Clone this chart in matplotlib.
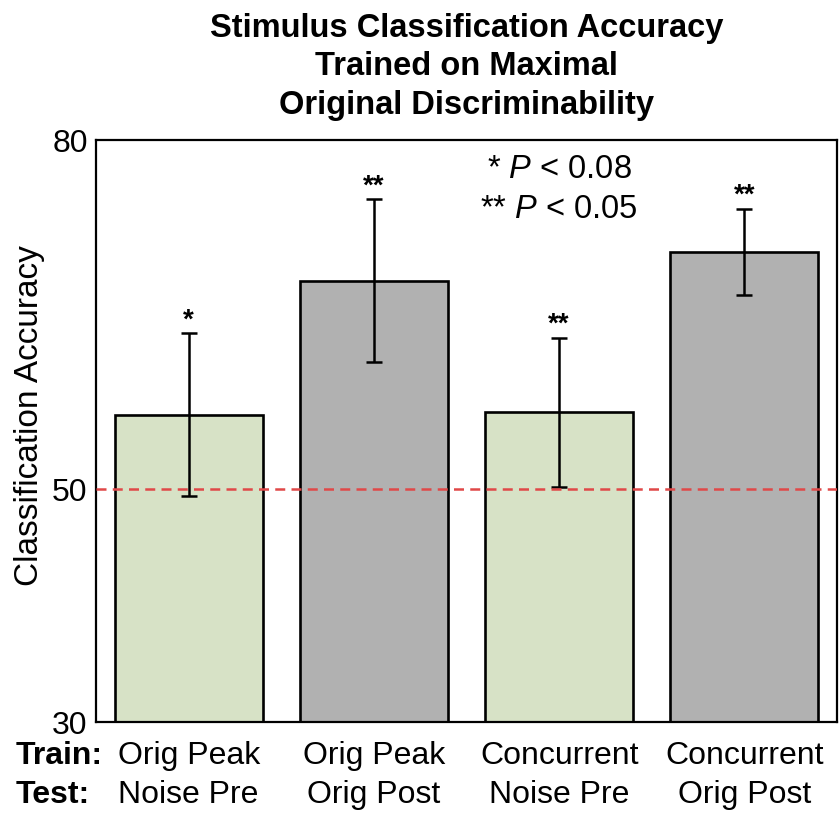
import matplotlib
matplotlib.use("Agg")
import matplotlib.pyplot as plt
from matplotlib.transforms import blended_transform_factory

plt.rcParams['font.family'] = ['Liberation Sans', 'DejaVu Sans']
plt.rcParams['mathtext.fontset'] = 'custom'
plt.rcParams['mathtext.rm'] = 'Liberation Sans'
plt.rcParams['mathtext.it'] = 'Liberation Sans:italic'

# Data
train_labels = ["Orig Peak", "Orig Peak", "Concurrent", "Concurrent"]
test_labels = ["Noise Pre", "Orig Post", "Noise Pre", "Orig Post"]
accuracy = [56.4, 67.9, 56.6, 70.4]
sem = [7.0, 7.0, 6.4, 3.7]
stars = ["*", "**", "**", "**"]
bar_colors = ["#d7e2c6", "#b1b1b1", "#d7e2c6", "#b1b1b1"]
chance = 50
yticks = [30, 50, 80]

W, H = 839, 818
fig = plt.figure(figsize=(W / 100, H / 100), dpi=100)
ax = fig.add_axes([96 / W, 96 / H, 741 / W, 582 / H])

x = list(range(len(accuracy)))
ax.bar(x, accuracy, width=0.8, color=bar_colors, edgecolor='black',
       linewidth=1.9, zorder=2)
ax.errorbar(x, accuracy, yerr=sem, fmt='none', ecolor='black',
            elinewidth=1.8, capsize=6, capthick=1.8, zorder=3)
ax.axhline(chance, color='#e04848', linestyle=(0, (4, 2.5)), linewidth=1.8,
           zorder=4)

for xi, yi, ei, s in zip(x, accuracy, sem, stars):
    ax.annotate(s, (xi, yi + ei), xytext=(0, 0), textcoords='offset points',
                ha='center', va='bottom', fontsize=20, fontweight='bold')

ax.text(2.0, 77.5, "* $\\it{P}$ < 0.08", ha='center', va='center', fontsize=23.5)
ax.text(2.0, 74.0, "** $\\it{P}$ < 0.05", ha='center', va='center', fontsize=23.5)

ax.set_xlim(-0.5, 3.5)
ax.set_ylim(30, 80)
ax.set_yticks(yticks)
ax.set_yticklabels([str(t) for t in yticks], fontsize=23)
ax.tick_params(axis='y', length=0, pad=6)

# two-row category labels under each bar
ax.set_xticks(x)
ax.set_xticklabels([])
ax.tick_params(axis='x', length=0)
trans = blended_transform_factory(ax.transData, fig.transFigure)
row_y = [1 - 764 / H, 1 - 803 / H]
for xi, tr, te in zip(x, train_labels, test_labels):
    ax.text(xi, row_y[0], tr, transform=trans, ha='center', va='baseline',
            fontsize=23)
    ax.text(xi, row_y[1], te, transform=trans, ha='center', va='baseline',
            fontsize=23)
fig.text(16 / W, row_y[0], "Train:", fontsize=23, fontweight='bold',
         ha='left', va='baseline')
fig.text(16 / W, row_y[1], "Test:", fontsize=23, fontweight='bold',
         ha='left', va='baseline')

for sp in ax.spines.values():
    sp.set_linewidth(1.6)

ax.set_ylabel("Classification Accuracy", fontsize=24)
ax.yaxis.set_label_coords(-0.069, 0.526)
ax.set_title("Stimulus Classification Accuracy\nTrained on Maximal\nOriginal Discriminability",
             fontsize=23.5, fontweight='bold', linespacing=1.3, pad=19)

fig.savefig("out.png", dpi=100)
